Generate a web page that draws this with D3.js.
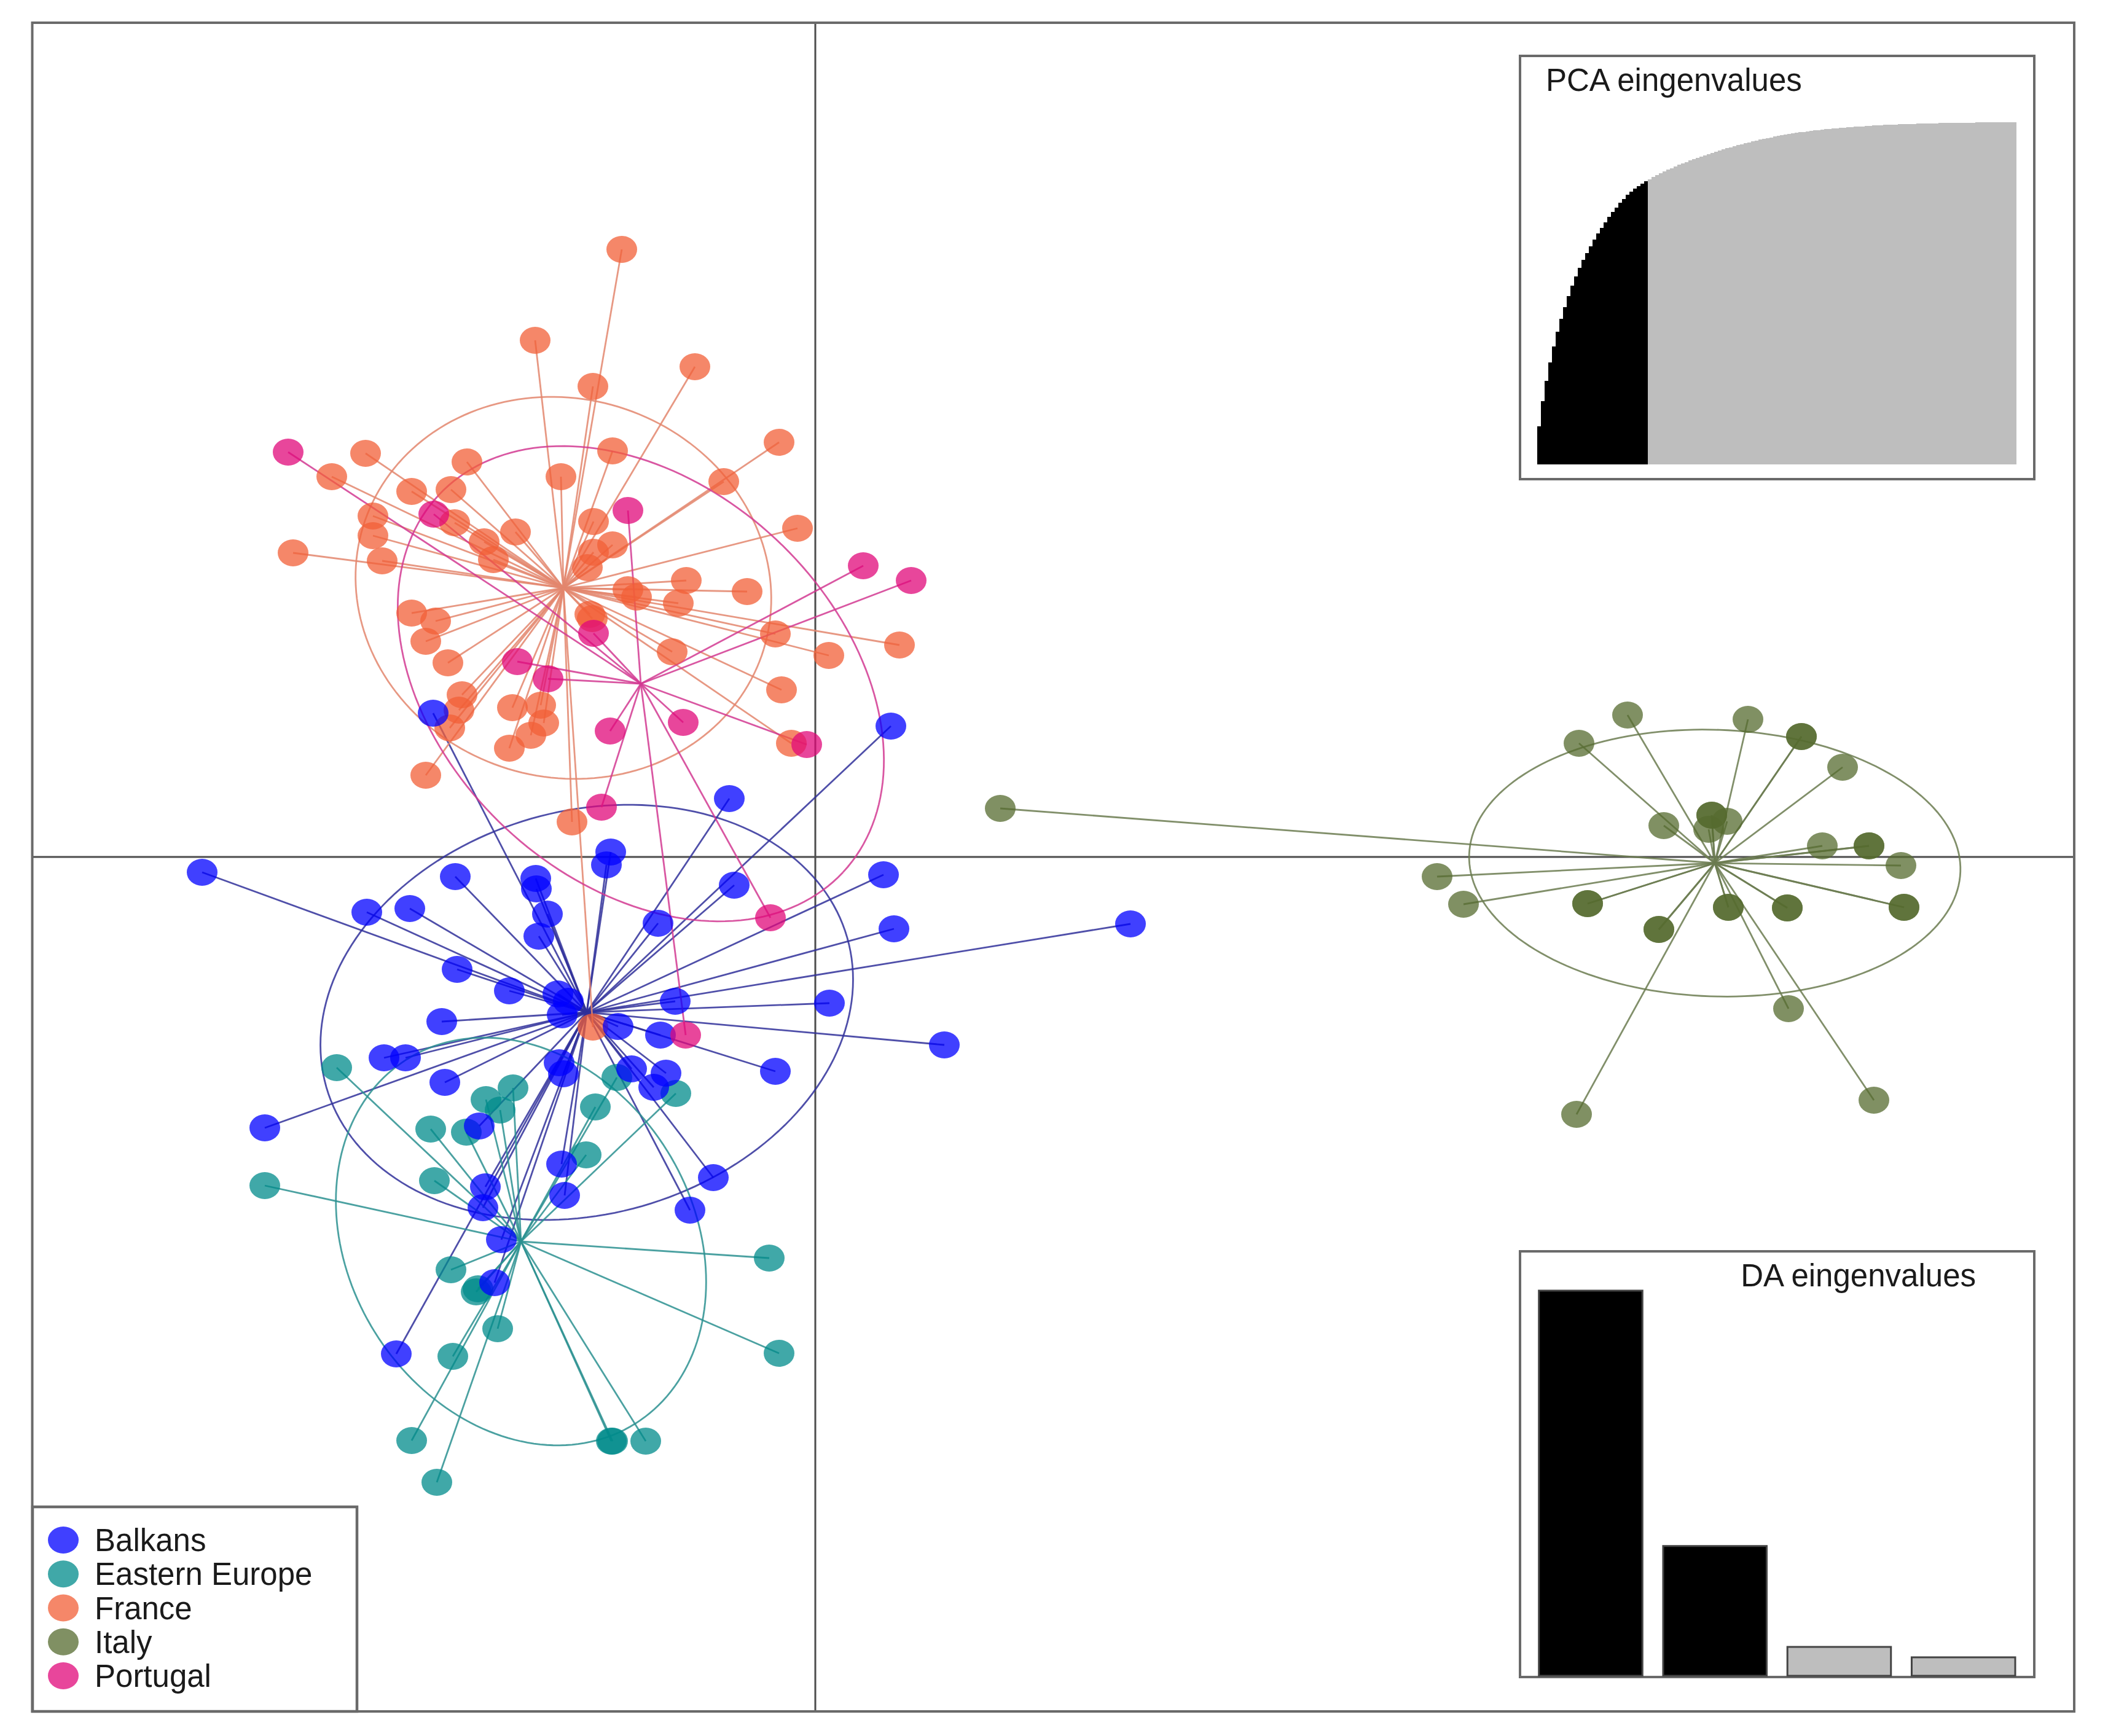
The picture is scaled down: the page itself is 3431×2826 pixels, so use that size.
<!DOCTYPE html>
<html><head><meta charset="utf-8">
<script src="https://cdn.jsdelivr.net/npm/d3@7"></script>
<style>html,body{margin:0;padding:0;background:#fff;} svg{display:block;}</style>
</head><body><svg id="chart"></svg>
<script>
// ---------------- DATA ----------------
const groups = ["Balkans", "Eastern Europe", "France", "Italy", "Portugal"];
const pointColors = ["#0000FF", "#008B8B", "#F15F37", "#556B2F", "#E00879"];
const lineColors  = ["#30309a", "#2b9191", "#e3866d", "#6b7b50", "#d23a92"];

// LD1, LD2 discriminant coordinates per individual
const balkansLD = [[-6.22,2.34],[1.23,2.13],[-1.40,0.95],[-3.33,0.08],[-3.40,-0.13],[-9.98,-0.25],[-5.86,-0.32],[-4.55,-0.35],[-4.54,-0.52],[1.11,-0.29],[-1.32,-0.46],[-7.30,-0.90],[-6.60,-0.84],[-4.36,-0.93],[-4.50,-1.29],[-2.56,-1.08],[1.28,-1.17],[5.13,-1.09],[-5.83,-1.83],[-4.98,-2.18],[-4.19,-2.23],[-4.12,-2.57],[-4.02,-2.35],[-2.28,-2.35],[0.23,-2.38],[-6.08,-2.68],[-3.21,-2.76],[-2.52,-2.90],[2.10,-3.06],[-7.02,-3.27],[-6.67,-3.27],[-6.03,-3.67],[-4.17,-3.35],[-4.10,-3.53],[-2.99,-3.45],[-2.43,-3.52],[-2.63,-3.75],[-0.65,-3.49],[-8.96,-4.41],[-5.47,-4.38],[-4.13,-5.00],[-1.66,-5.22],[-4.08,-5.51],[-5.37,-5.37],[-5.41,-5.71],[-2.04,-5.75],[-5.11,-6.23],[-5.22,-6.93],[-6.82,-8.09]];
const easternLD = [[-7.79,-3.43],[-4.92,-3.76],[-5.36,-3.95],[-5.13,-4.12],[-3.58,-4.07],[-3.23,-3.59],[-2.27,-3.85],[-6.26,-4.43],[-5.68,-4.48],[-3.73,-4.85],[-8.96,-5.35],[-6.20,-5.27],[-0.75,-6.53],[-5.93,-6.72],[-5.52,-7.08],[-5.49,-7.03],[-5.17,-7.68],[-0.59,-8.08],[-5.90,-8.13],[-6.57,-9.50],[-3.32,-9.51],[-3.30,-9.51],[-2.76,-9.51],[-6.16,-10.18]];
const franceLD = [[-3.15,9.89],[-4.56,8.41],[-1.96,7.98],[-3.62,7.66],[-0.59,6.75],[-7.32,6.57],[-7.87,6.19],[-5.67,6.43],[-3.30,6.61],[-4.14,6.19],[-1.49,6.11],[-6.57,5.95],[-5.93,5.98],[-7.20,5.55],[-7.20,5.23],[-5.87,5.44],[-0.29,5.35],[-4.88,5.29],[-8.50,4.95],[-7.05,4.82],[-5.39,5.13],[-5.24,4.84],[-3.61,5.46],[-3.30,5.08],[-3.61,4.96],[-3.71,4.71],[-3.05,4.35],[-2.91,4.23],[-2.10,4.50],[-1.11,4.32],[-2.23,4.13],[-6.57,3.97],[-6.18,3.84],[-6.34,3.51],[-5.98,3.16],[-3.63,3.88],[-3.67,3.95],[-0.65,3.63],[-2.33,3.34],[0.22,3.28],[1.37,3.45],[-0.55,2.72],[-5.75,2.64],[-5.80,2.39],[-5.95,2.10],[-4.93,2.43],[-4.47,2.47],[-4.42,2.18],[-4.63,1.98],[-4.98,1.77],[-0.39,1.85],[-6.34,1.33],[-3.96,0.57],[-3.62,-2.77]];
const italyLD = [[3.01,0.79],[13.22,2.31],[15.18,2.24],[12.43,1.85],[16.05,1.96],[16.05,1.96],[16.72,1.46],[13.81,0.51],[14.59,0.68],[14.59,0.68],[14.84,0.58],[14.54,0.45],[16.39,0.18],[17.15,0.18],[17.15,0.18],[17.67,-0.14],[10.12,-0.32],[10.55,-0.77],[12.57,-0.76],[12.57,-0.76],[14.86,-0.82],[14.86,-0.82],[15.82,-0.83],[15.82,-0.83],[17.72,-0.82],[17.72,-0.82],[13.73,-1.18],[13.73,-1.18],[15.84,-2.47],[12.39,-4.19],[17.23,-3.96]];
const portugalLD = [[-8.58,6.59],[-6.21,5.58],[-3.05,5.64],[0.78,4.74],[1.56,4.50],[-3.61,3.64],[-4.85,3.18],[-4.35,2.90],[-3.34,2.05],[-2.15,2.19],[-0.14,1.83],[-3.48,0.81],[-0.73,-0.99],[-2.11,-2.90]];
const groupLD = [balkansLD, easternLD, franceLD, italyLD, portugalLD];

// group centroids (LD1, LD2)
const centroids = [[-3.72,-2.53],[-4.79,-6.26],[-4.10,4.38],[14.64,-0.10],[-2.84,2.82]];
// inertia ellipses: semi-axis a, semi-axis b, rotation (degrees, counter-clockwise)
const ellipseA = [4.41, 3.50, 3.41, 4.00, 4.50];
const ellipseB = [3.28, 2.80, 3.08, 2.17, 3.22];
const ellipseAngle = [16, -58, -17, -2, -43];

// PCA eigenvalues (% variance per PC), first nPcaRetained retained
const pcaEig = [11.1,7.4,6.0,5.3,4.7,4.2,3.8,3.5,3.2,3.0,
  2.7,2.5,2.3,2.1,2.0,1.9,1.8,1.7,1.6,1.5,
  1.45,1.35,1.3,1.25,1.2,0.95,0.85,0.75,0.7,0.65,
  0.62,0.60,0.57,0.55,0.53,0.51,0.49,0.47,0.45,0.44,
  0.42,0.41,0.40,0.39,0.38,0.37,0.36,0.35,0.34,0.33,
  0.33,0.32,0.31,0.30,0.29,0.29,0.28,0.27,0.26,0.26,
  0.25,0.24,0.24,0.23,0.22,0.21,0.20,0.19,0.18,0.17,
  0.16,0.15,0.14,0.14,0.13,0.12,0.12,0.11,0.11,0.10,
  0.10,0.10,0.09,0.09,0.09,0.08,0.08,0.08,0.07,0.07,
  0.07,0.06,0.06,0.06,0.05,0.05,0.05,0.05,0.04,0.04,
  0.04,0.04,0.04,0.03,0.03,0.03,0.03,0.03,0.03,0.02,
  0.02,0.02,0.02,0.02,0.02,0.02,0.02,0.01,0.01,0.01,
  0.01,0.01,0.01,0.01,0.01,0.01,0.01,0.005,0.005,0.005];
const nPcaRetained = 30;
// DA eigenvalues
const daEig = [100, 33.7, 7.5, 4.8];
const nDaRetained = 2;

// ---------------- DRAWING ----------------
const W = 3431, H = 2826;
const FONT = "'Liberation Sans', Arial, Helvetica, sans-serif";
const svg = d3.select("#chart").attr("width", W).attr("height", H);
svg.append("rect").attr("width", W).attr("height", H).attr("fill", "#fff");

const frame = {l: 52.5, r: 3376, t: 37, b: 2786};
const x = d3.scaleLinear().domain([-12.745, 20.49]).range([frame.l, frame.r]);
const y = d3.scaleLinear().domain([13.58, -13.91]).range([frame.t, frame.b]);

// axes through origin
svg.append("line").attr("x1", x(0)).attr("x2", x(0)).attr("y1", frame.t).attr("y2", frame.b)
  .attr("stroke", "#4d4d4d").attr("stroke-width", 3);
svg.append("line").attr("x1", frame.l).attr("x2", frame.r).attr("y1", y(0)).attr("y2", y(0))
  .attr("stroke", "#4d4d4d").attr("stroke-width", 3);

const gLines = svg.append("g");
const line = d3.line().x(d => x(d[0])).y(d => y(d[1]));
const tSteps = d3.range(0, 361, 2);
groups.forEach((g, i) => {
  const [cx, cy] = centroids[i];
  const phi = ellipseAngle[i] * Math.PI / 180;
  const a = ellipseA[i], b = ellipseB[i];
  const pts = tSteps.map(t => {
    const tr = t * Math.PI / 180;
    return [cx + a * Math.cos(phi) * Math.cos(tr) - b * Math.sin(phi) * Math.sin(tr),
            cy + a * Math.sin(phi) * Math.cos(tr) + b * Math.cos(phi) * Math.sin(tr)];
  });
  gLines.append("path").attr("d", line(pts)).attr("fill", "none")
    .attr("stroke", lineColors[i]).attr("stroke-width", 2.8).attr("stroke-opacity", 0.85);
  gLines.selectAll(null).data(groupLD[i]).enter().append("line")
    .attr("x1", x(cx)).attr("y1", y(cy))
    .attr("x2", d => x(d[0])).attr("y2", d => y(d[1]))
    .attr("stroke", lineColors[i]).attr("stroke-width", 2.8).attr("stroke-opacity", 0.85);
});

// points
const drawOrder = [1, 2, 3, 0, 4];
const gPts = svg.append("g");
drawOrder.forEach(i => {
  gPts.selectAll(null).data(groupLD[i]).enter().append("ellipse")
    .attr("cx", d => x(d[0])).attr("cy", d => y(d[1]))
    .attr("rx", 25).attr("ry", 22)
    .attr("fill", pointColors[i]).attr("fill-opacity", 0.75);
});

// frame
svg.append("rect").attr("x", frame.l).attr("y", frame.t)
  .attr("width", frame.r - frame.l).attr("height", frame.b - frame.t)
  .attr("fill", "none").attr("stroke", "#6a6a6a").attr("stroke-width", 4);

// legend
const leg = svg.append("g");
leg.append("rect").attr("x", 53).attr("y", 2453).attr("width", 528).attr("height", 2786 - 2453)
  .attr("fill", "#fff").attr("stroke", "#6a6a6a").attr("stroke-width", 4.5);
const legY = d3.scaleLinear().domain([0, 4]).range([2507, 2728]);
groups.forEach((g, i) => {
  leg.append("ellipse").attr("cx", 103).attr("cy", legY(i)).attr("rx", 25).attr("ry", 22)
    .attr("fill", pointColors[i]).attr("fill-opacity", 0.75);
  leg.append("text").attr("x", 154).attr("y", legY(i) + 18).text(g)
    .attr("font-family", FONT).attr("font-size", 51).attr("fill", "#1a1a1a");
});

// PCA eigenvalue inset
const pca = svg.append("g");
pca.append("rect").attr("x", 2474).attr("y", 91).attr("width", 3311 - 2474).attr("height", 780 - 91)
  .attr("fill", "#fff").attr("stroke", "#6a6a6a").attr("stroke-width", 4);
const cum = d3.cumsum(pcaEig);
const px = d3.scaleLinear().domain([0, pcaEig.length]).range([2502, 3281]);
const py = d3.scaleLinear().domain([0, cum[cum.length - 1]]).range([756, 199]);
pca.append("g").attr("shape-rendering", "crispEdges")
  .selectAll("rect").data(Array.from(cum)).enter().append("rect")
  .attr("x", (d, i) => px(i)).attr("width", (d, i) => px(i + 1) - px(i) + 1)
  .attr("y", d => py(d)).attr("height", d => py(0) - py(d))
  .attr("fill", (d, i) => i < nPcaRetained ? "#000" : "#bebebe");
pca.append("text").attr("x", 2516).attr("y", 148).text("PCA eingenvalues")
  .attr("font-family", FONT).attr("font-size", 51).attr("fill", "#1a1a1a");

// DA eigenvalue inset
const da = svg.append("g");
da.append("rect").attr("x", 2474).attr("y", 2037).attr("width", 3311 - 2474).attr("height", 2730 - 2037)
  .attr("fill", "#fff").attr("stroke", "#6a6a6a").attr("stroke-width", 4);
const dx = d3.scaleLinear().domain([0, 4.8]).range([2471, 3280]);
const dy = d3.scaleLinear().domain([0, 100]).range([2728, 2101]);
da.selectAll(null).data(daEig).enter().append("rect")
  .attr("x", (d, i) => dx(0.2 + 1.2 * i)).attr("width", dx(1) - dx(0))
  .attr("y", d => dy(d)).attr("height", d => dy(0) - dy(d))
  .attr("fill", (d, i) => i < nDaRetained ? "#000" : "#bebebe")
  .attr("stroke", "#444").attr("stroke-width", 3);
da.append("text").attr("x", 3216).attr("y", 2094).attr("text-anchor", "end").text("DA eingenvalues")
  .attr("font-family", FONT).attr("font-size", 51).attr("fill", "#1a1a1a");
</script>
</body></html>
